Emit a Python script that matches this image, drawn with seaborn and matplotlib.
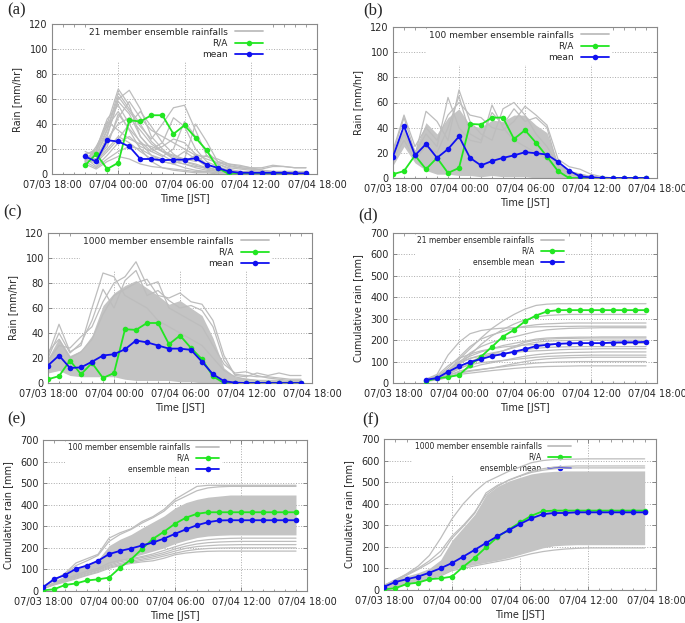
import numpy as np
import pandas as pd
import seaborn as sns
import matplotlib.pyplot as plt
from matplotlib.lines import Line2D

# time axis, hours after 07/03 18:00
hours_full = list(range(0, 24))      # 18:00 .. 17:00
hours_late = list(range(3, 24))      # 21:00 .. 17:00
tick_pos = [0, 6, 12, 18, 24]
tick_labels = ['07/03 18:00', '07/04 00:00', '07/04 06:00', '07/04 12:00', '07/04 18:00']

# ---------------- (a) 21 member hourly rain, 21:00 .. 17:00
ra_a = [7, 16, 4, 9, 43, 42, 47, 47, 32, 39, 29, 19, 5, 0, 0, 0, 0, 0, 0, 0, 0]
mean_a = [14, 10, 27, 26, 22, 12, 12, 11, 11.5, 11.5, 12.5, 7.5, 5, 2, 1, 1, 1, 1, 1, 0.5, 0.5]
members_a = [
    [12, 18, 40, 68, 55, 30, 20, 15, 10, 8, 5, 3, 2, 1, 1, 0, 0, 0, 0, 0, 0],
    [15, 12, 30, 60, 67, 52, 30, 20, 12, 10, 8, 5, 3, 2, 1, 1, 0, 0, 0, 0, 0],
    [10, 20, 44, 55, 40, 25, 15, 10, 8, 5, 3, 2, 1, 1, 0, 0, 0, 0, 0, 0, 0],
    [16, 8, 25, 45, 58, 45, 35, 30, 25, 20, 15, 8, 4, 2, 1, 1, 1, 1, 0, 0, 0],
    [11, 15, 35, 62, 50, 38, 28, 40, 53, 55, 35, 15, 8, 5, 4, 3, 2, 1, 1, 1, 1],
    [14, 10, 20, 30, 25, 18, 12, 10, 8, 12, 40, 26, 10, 6, 5, 4, 4, 6, 6, 5, 5],
    [9, 22, 38, 50, 35, 20, 10, 5, 3, 2, 1, 1, 0, 0, 0, 0, 0, 0, 0, 0, 0],
    [13, 6, 15, 25, 30, 22, 18, 14, 20, 42, 30, 18, 10, 8, 7, 5, 5, 7, 6, 5, 5],
    [18, 14, 28, 40, 45, 35, 24, 18, 15, 12, 10, 15, 8, 4, 2, 1, 1, 1, 1, 1, 1],
    [10, 5, 12, 18, 22, 20, 15, 12, 10, 8, 6, 5, 3, 2, 2, 2, 1, 1, 1, 1, 1],
    [12, 16, 32, 58, 48, 30, 20, 25, 45, 38, 20, 10, 6, 3, 2, 1, 1, 1, 1, 0, 0],
    [15, 20, 42, 35, 28, 24, 22, 18, 14, 10, 15, 14, 12, 8, 6, 5, 3, 2, 2, 2, 2],
    [11, 9, 18, 28, 40, 50, 38, 25, 16, 10, 7, 4, 2, 1, 1, 0, 0, 0, 0, 0, 0],
    [14, 12, 22, 48, 36, 26, 18, 22, 28, 25, 16, 12, 9, 7, 5, 4, 3, 2, 2, 2, 1],
    [8, 4, 10, 14, 12, 8, 6, 5, 4, 3, 2, 2, 1, 1, 1, 0, 0, 0, 0, 0, 0],
    [16, 18, 36, 65, 52, 40, 26, 18, 12, 18, 12, 6, 3, 2, 1, 1, 0, 0, 0, 0, 0],
]

# ---------------- (b) 100 member hourly rain, 18:00 .. 17:00
ra_b = [3, 5.5, 18, 7, 16, 4, 8, 43, 42.5, 48, 48, 31, 38, 28, 17, 5.5, 0, 0, 0, 0, 0, 0, 0, 0]
mean_b = [17, 41.5, 18, 27, 16, 23, 33, 16, 10, 13.5, 16, 18, 20.5, 19.7, 18.6, 12.8, 5.9, 1.3, 0.5, 0, 0, 0, 0, 0]
band_b_low = [10, 25, 12, 6, 3, 3, 2, 2, 1, 2, 1, 1, 1, 0, 0, 0, 0, 0, 0, 0, 0, 0, 0, 0]
band_b_high = [20, 40, 22, 44, 35, 48, 55, 42, 40, 46, 45, 50, 50, 42, 36, 12, 6, 4, 2, 1, 0, 0, 0, 0]
members_b = [
    [20, 48, 20, 35, 25, 64, 40, 30, 28, 58, 40, 30, 25, 20, 15, 5, 3, 1, 0, 0, 0, 0, 0, 0],
    [18, 35, 18, 53, 45, 30, 70, 45, 35, 30, 55, 60, 50, 35, 25, 10, 5, 3, 1, 0, 0, 0, 0, 0],
    [22, 50, 25, 40, 30, 50, 60, 50, 48, 40, 38, 45, 57, 50, 42, 15, 9, 7, 3, 1, 0, 0, 0, 0],
    [15, 30, 15, 25, 20, 40, 65, 35, 30, 52, 42, 55, 45, 48, 40, 8, 4, 2, 1, 0, 0, 0, 0, 0],
]

# ---------------- (c) 1000 member hourly rain, 18:00 .. 17:00
ra_c = [3, 5.5, 18, 7, 16, 4, 8, 43, 42.5, 48, 48, 31, 38, 28, 19, 5.3, 0, 0, 0, 0, 0, 0, 0, 0]
mean_c = [14, 22, 12, 12.5, 17, 22, 23, 27, 34, 32.5, 30, 27.5, 27.5, 26.5, 17, 7, 1.5, 0.3, 0, 0, 0, 0, 0, 0]
band_c_low = [8, 10, 6, 5, 5, 5, 5, 3, 2, 2, 2, 2, 1, 1, 0, 0, 0, 0, 0, 0, 0, 0, 0, 0]
band_c_high = [20, 36, 22, 26, 38, 62, 72, 78, 82, 76, 70, 63, 66, 60, 54, 36, 12, 5, 4, 3, 3, 3, 2, 2]
members_c = [
    [22, 47, 25, 30, 60, 88, 85, 70, 65, 60, 50, 45, 40, 35, 30, 20, 10, 5, 3, 2, 1, 1, 1, 1],
    [18, 30, 28, 37, 45, 65, 80, 85, 97, 78, 81, 60, 55, 50, 45, 30, 15, 8, 9, 6, 4, 3, 2, 2],
    [25, 35, 20, 25, 35, 55, 70, 75, 80, 83, 70, 68, 72, 65, 63, 50, 22, 6, 5, 8, 6, 8, 6, 6],
    [20, 40, 24, 32, 50, 75, 60, 82, 90, 70, 74, 66, 60, 62, 58, 45, 18, 7, 6, 5, 5, 4, 3, 3],
]

# ---------------- (d) 21 member cumulative rain, 21:00 .. 17:00
ra_d = [9, 22, 28, 37, 83, 123, 169, 217, 248, 288, 315, 334, 340, 340, 340, 340, 340, 340, 340, 340, 340]
mean_d = [15, 23, 52, 78, 98, 112, 126, 135, 146, 158, 172, 178, 183, 185, 186, 186, 186, 189, 190, 190, 192]
members_d = [
    [15, 28, 55, 110, 160, 210, 255, 290, 320, 345, 362, 368, 370, 370, 370, 370, 370, 370, 370, 370, 370],
    [18, 40, 130, 190, 230, 245, 252, 256, 258, 260, 262, 263, 264, 264, 265, 265, 265, 265, 265, 265, 265],
    [14, 30, 70, 120, 170, 205, 225, 240, 255, 265, 272, 276, 278, 280, 280, 280, 280, 280, 280, 280, 280],
    [12, 25, 55, 95, 140, 170, 190, 205, 215, 228, 240, 248, 252, 255, 256, 257, 258, 258, 258, 258, 258],
    [16, 30, 60, 100, 125, 145, 160, 175, 185, 195, 205, 210, 212, 213, 214, 214, 215, 215, 215, 215, 215],
    [10, 22, 50, 90, 115, 130, 140, 150, 165, 180, 190, 195, 197, 198, 199, 200, 200, 200, 200, 200, 200],
    [15, 35, 80, 115, 135, 150, 160, 168, 173, 177, 180, 182, 183, 184, 185, 185, 185, 185, 185, 185, 185],
    [12, 20, 40, 65, 90, 110, 125, 135, 145, 155, 162, 166, 168, 169, 170, 170, 170, 170, 170, 170, 170],
    [14, 28, 60, 95, 115, 125, 132, 138, 143, 147, 150, 152, 155, 157, 158, 159, 160, 160, 160, 160, 160],
    [11, 18, 35, 55, 70, 85, 95, 105, 115, 125, 132, 137, 140, 142, 143, 144, 145, 145, 145, 145, 145],
    [13, 24, 45, 70, 85, 95, 100, 105, 110, 115, 120, 124, 126, 128, 129, 130, 130, 130, 130, 130, 130],
    [10, 16, 28, 45, 55, 62, 70, 80, 90, 100, 108, 113, 116, 118, 119, 120, 120, 120, 120, 120, 120],
    [12, 20, 35, 50, 58, 64, 70, 76, 82, 88, 93, 96, 98, 99, 100, 100, 100, 100, 100, 100, 100],
    [8, 14, 25, 40, 46, 52, 58, 63, 68, 72, 75, 77, 78, 79, 80, 80, 80, 80, 80, 80, 80],
    [14, 26, 50, 85, 130, 180, 220, 250, 275, 295, 308, 315, 318, 320, 320, 320, 320, 320, 320, 320, 320],
    [12, 22, 45, 75, 100, 120, 135, 150, 170, 190, 200, 205, 207, 208, 209, 210, 210, 210, 210, 210, 210],
]

# ---------------- (e) 100 member cumulative rain, 18:00 .. 17:00
ra_e = [3, 8, 28, 35, 49, 54, 62, 108, 146, 195, 242, 275, 312, 340, 358, 365, 365, 365, 365, 365, 365, 365, 365, 365]
mean_e = [17, 55, 74, 103, 118, 140, 171, 186, 197, 211, 225, 243, 265, 286, 305, 319, 327, 328, 328, 328, 328, 328, 328, 328]
band_e_low = [14, 35, 52, 70, 88, 100, 125, 140, 155, 170, 185, 200, 220, 235, 248, 255, 258, 260, 260, 260, 260, 260, 260, 260]
band_e_high = [20, 45, 72, 105, 125, 145, 210, 240, 262, 292, 320, 348, 385, 410, 425, 435, 440, 445, 445, 445, 445, 445, 445, 445]
members_e = [
    [22, 50, 82, 130, 150, 170, 245, 270, 288, 322, 345, 378, 425, 455, 485, 490, 490, 490, 490, 490, 490, 490, 490, 490],
    [20, 48, 78, 118, 140, 165, 230, 262, 285, 315, 340, 370, 415, 440, 465, 478, 483, 485, 485, 485, 485, 485, 485, 485],
    [15, 38, 55, 75, 92, 105, 130, 142, 150, 160, 172, 188, 205, 220, 232, 238, 242, 244, 245, 245, 245, 245, 245, 245],
    [13, 34, 50, 68, 84, 98, 120, 135, 145, 155, 165, 178, 195, 208, 218, 224, 227, 229, 230, 230, 230, 230, 230, 230],
    [12, 32, 48, 64, 80, 95, 115, 128, 138, 148, 158, 170, 185, 198, 206, 210, 213, 214, 215, 215, 215, 215, 215, 215],
    [11, 30, 45, 60, 75, 90, 110, 122, 132, 142, 150, 162, 175, 186, 193, 197, 199, 200, 200, 200, 200, 200, 200, 200],
    [10, 28, 42, 56, 72, 86, 105, 118, 128, 135, 140, 152, 168, 176, 181, 184, 185, 185, 185, 185, 185, 185, 185, 185],
]

# ---------------- (f) 1000 member cumulative rain, 18:00 .. 17:00
ra_f = [3, 8, 28, 34, 50, 54, 62, 108, 149, 198, 245, 280, 313, 344, 365, 368, 368, 368, 368, 368, 368, 368, 368, 368]
mean_f = [15, 37, 50, 62, 80, 101, 125, 155, 186, 218, 249, 277, 306, 332, 351, 357, 357, 360, 360, 360, 360, 360, 360, 360]
band_f_low = [5, 15, 30, 40, 55, 70, 95, 108, 118, 128, 138, 150, 165, 180, 195, 205, 208, 210, 210, 210, 210, 210, 210, 210]
band_f_high = [25, 50, 65, 80, 100, 140, 230, 290, 350, 440, 480, 505, 522, 538, 546, 550, 552, 552, 552, 552, 552, 552, 552, 552]
members_f = [
    [20, 45, 75, 110, 160, 240, 330, 400, 455, 500, 525, 550, 570, 590, 600, 605, 606, 607, 608, 608, 608, 608, 608, 608],
    [22, 48, 72, 100, 135, 180, 250, 300, 360, 440, 480, 510, 530, 550, 562, 570, 573, 575, 575, 575, 575, 575, 575, 575],
    [18, 42, 68, 95, 125, 160, 240, 295, 355, 450, 485, 508, 528, 545, 555, 562, 565, 566, 566, 566, 566, 566, 566, 566],
    [3, 12, 25, 38, 50, 65, 90, 100, 112, 122, 132, 142, 155, 168, 178, 185, 190, 193, 195, 195, 195, 195, 195, 195],
]

GRAY = '#bdbdbd'
FILL = '#c4c4c4'
GREEN = '#22e622'
BLUE = '#1010f0'

sns.set_theme(style='ticks')
plt.rcParams['font.family'] = ['DejaVu Sans']

fig = plt.figure(figsize=(6.85, 6.23), dpi=100)
W, H = 685.0, 623.0


def add_panel(l, t, r, b):
    return fig.add_axes([l / W, 1 - b / H, (r - l) / W, (b - t) / H])


def members_frame(members, hours):
    rows = []
    for k, m in enumerate(members):
        for h, v in zip(hours, m):
            rows.append((k, h, v))
    return pd.DataFrame(rows, columns=['member', 'hour', 'rain'])


def draw(ax, hours, members, ra, mean, ymax, ystep, ylabel, ens_label, mean_label,
         legend_x, legend_fs, band=None):
    ax.set_axisbelow(True)
    if band is not None:
        ax.fill_between(hours, band[0], band[1], color=FILL, lw=0, zorder=2)
    df = members_frame(members, hours)
    sns.lineplot(data=df, x='hour', y='rain', units='member', estimator=None,
                 color=GRAY, lw=0.9, legend=False, ax=ax, zorder=2)
    sns.lineplot(x=hours, y=ra, color=GREEN, lw=1.3, marker='o', markersize=4,
                 markeredgewidth=0, ax=ax, zorder=4)
    sns.lineplot(x=hours, y=mean, color=BLUE, lw=1.3, marker='o', markersize=4,
                 markeredgewidth=0, ax=ax, zorder=5)
    ax.set_xlim(0, 24)
    ax.set_ylim(0, ymax)
    ax.set_xticks(tick_pos)
    ax.set_xticklabels(tick_labels)
    ax.set_xticks(range(0, 25), minor=True)
    ax.set_yticks(np.arange(0, ymax + 1, ystep))
    ax.tick_params(direction='in', top=True, right=True, length=3, width=0.6,
                   color='#777777', labelsize=7, pad=3)
    ax.tick_params(axis='x', pad=4)
    ax.tick_params(which='minor', direction='in', top=True, bottom=True, length=1.8,
                   width=0.5, color='#777777')
    ax.grid(True, which='major', ls=':', lw=0.7, color='#aaaaaa')
    for s in ax.spines.values():
        s.set_color('#8a8a8a')
        s.set_linewidth(0.8)
    ax.set_xlabel('Time [JST]', fontsize=7, labelpad=3)
    ax.set_ylabel(ylabel, fontsize=7, labelpad=5)
    handles = [Line2D([], [], color=GRAY, lw=1.3),
               Line2D([], [], color=GREEN, lw=1.3, marker='o', markersize=4, markeredgewidth=0),
               Line2D([], [], color=BLUE, lw=1.3, marker='o', markersize=4, markeredgewidth=0)]
    leg = ax.legend(handles, [ens_label, 'R/A', mean_label], loc='upper right',
                    bbox_to_anchor=(legend_x, 1.0), borderaxespad=0.1, markerfirst=False,
                    frameon=True, facecolor='white', edgecolor='none', framealpha=1,
                    fontsize=legend_fs, handlelength=3.1, handletextpad=0.8,
                    labelspacing=0.25, borderpad=0.3)
    leg.set_zorder(1.5)


ax_a = add_panel(52, 24, 317, 174)
draw(ax_a, hours_late, members_a, ra_a, mean_a, 120, 20, 'Rain [mm/hr]',
     '21 member ensemble rainfalls', 'mean', 0.81, 6.5)
ax_b = add_panel(393, 27, 657, 178)
draw(ax_b, hours_full, members_b, ra_b, mean_b, 120, 20, 'Rain [mm/hr]',
     '100 member ensemble rainfalls', 'mean', 0.83, 6.5, band=(band_b_low, band_b_high))
ax_c = add_panel(48, 233, 312, 383)
draw(ax_c, hours_full, members_c, ra_c, mean_c, 120, 20, 'Rain [mm/hr]',
     '1000 member ensemble rainfalls', 'mean', 0.85, 6.5, band=(band_c_low, band_c_high))
ax_d = add_panel(393, 233, 657, 383)
draw(ax_d, hours_late, members_d, ra_d, mean_d, 700, 100, 'Cumulative rain [mm]',
     '21 member ensemble rainfalls', 'ensemble mean', 0.66, 5.5)
ax_e = add_panel(43, 440, 307, 591)
draw(ax_e, hours_full, members_e, ra_e, mean_e, 700, 100, 'Cumulative rain [mm]',
     '100 member ensemble rainfalls', 'ensemble mean', 0.68, 5.5, band=(band_e_low, band_e_high))
ax_f = add_panel(384, 439, 656, 590)
draw(ax_f, hours_full, members_f, ra_f, mean_f, 700, 100, 'Cumulative rain [mm]',
     '1000 member ensemble rainfalls', 'ensemble mean', 0.70, 5.5, band=(band_f_low, band_f_high))

# panel letters
for txt, x, y in [('(a)', 7, 10), ('(b)', 363, 10), ('(c)', 3, 212), ('(d)', 358, 215),
                  ('(e)', 7, 419), ('(f)', 362, 420)]:
    fig.text(x / W, 1 - y / H, txt, fontsize=12, family='Liberation Serif', va='center', ha='left')

fig.savefig('out.png', dpi=100)
